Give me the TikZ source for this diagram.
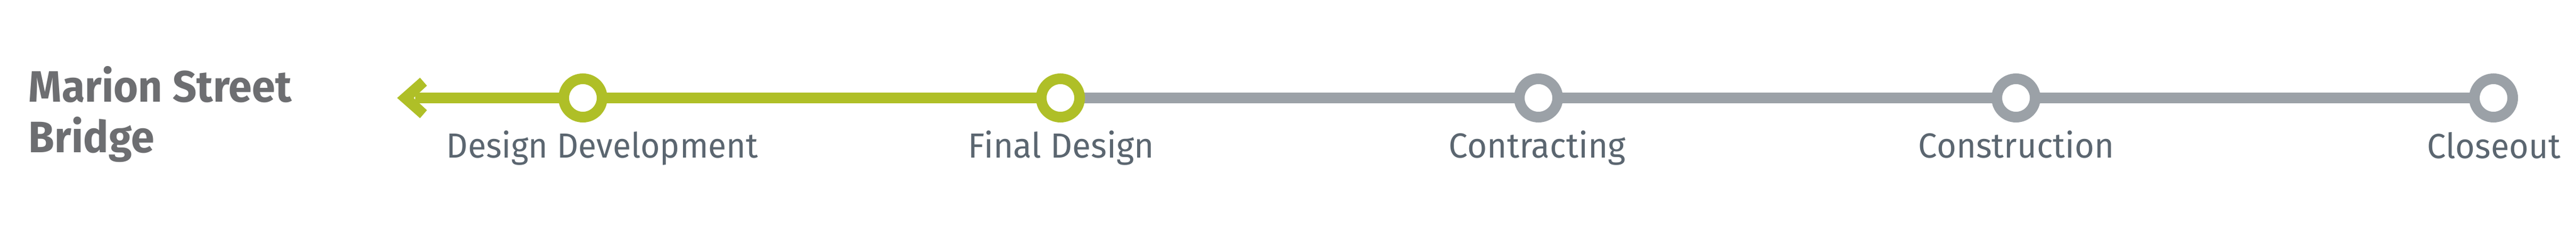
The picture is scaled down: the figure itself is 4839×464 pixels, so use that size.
\documentclass[tikz,border=0pt]{standalone}
\usepackage{fontspec}
\usepackage{graphicx}
\setmainfont{Fira Sans}
\usetikzlibrary{backgrounds}
\definecolor{stgreen}{HTML}{AFBF27}
\definecolor{stgray}{HTML}{9BA1A7}
\definecolor{titlegray}{HTML}{6D6E71}
\definecolor{labelgray}{HTML}{5B6670}
\begin{document}
\begin{tikzpicture}[x=0.01cm,y=-0.01cm,
  milestone/.style={circle,draw,line width=0.2cm,minimum size=0.72cm,inner sep=0pt,fill=white},
  done/.style={milestone,draw=stgreen},
  todo/.style={milestone,draw=stgray},
  track/.style={line width=0.2cm},
  phase/.style={anchor=base,text=labelgray,font=\fontsize{18.6pt}{20pt}\selectfont,inner sep=0pt},
  titletext/.style={anchor=base west,text=titlegray,font=\bfseries\fontsize{23.5pt}{26pt}\selectfont,inner sep=0pt}]
\useasboundingbox (0,0) rectangle (4839,464);
% title
\node[titletext] (t1) at (53,192) {\resizebox{4.94cm}{\height}{Marion Street}};
\node[titletext] (t2) at (53,287) {\resizebox{2.36cm}{\height}{Bridge}};
% milestones
\node[done] (c1) at (1095,184) {};
\node[done] (c2) at (1992,184) {};
\node[todo] (c3) at (2890,184) {};
\node[todo] (c4) at (3787,184) {};
\node[todo] (c5) at (4684,184) {};
\coordinate (tail) at (780,184);
\coordinate (tip) at (746,184);
% track
\begin{scope}[on background layer]
\draw[track,stgreen] (tail) -- (c1.center);
\draw[track,stgreen] (c1.center) -- (c2.center);
\draw[track,stgray] (c2.center) -- (c3.center);
\draw[track,stgray] (c3.center) -- (c4.center);
\draw[track,stgray] (c4.center) -- (c5.center);
\fill[stgreen] (tip) -- (789,146) -- (802,161) -- (777,184) -- (802,207) -- (789,222) -- cycle;
\end{scope}
% labels
\node[phase] (l1) at (1131.5,297) {\resizebox{5.85cm}{\height}{Design Development}};
\node[phase] (l2) at (1993.5,297) {\resizebox{3.49cm}{\height}{Final Design}};
\node[phase] (l3) at (2888,297) {\resizebox{3.32cm}{\height}{Contracting}};
\node[phase] (l4) at (3787.5,297) {\resizebox{3.67cm}{\height}{Construction}};
\node[phase] (l5) at (4685,297) {\resizebox{2.50cm}{\height}{Closeout}};
\end{tikzpicture}
\end{document}
